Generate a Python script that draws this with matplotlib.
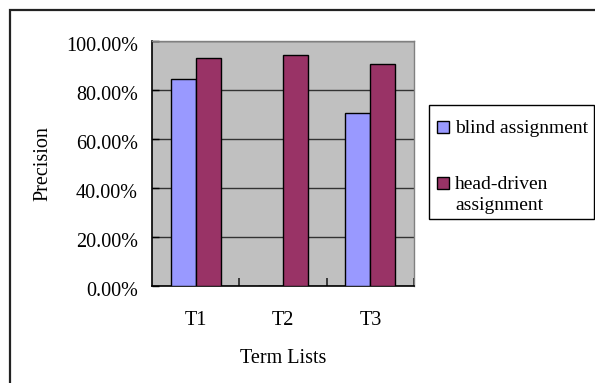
import numpy as np
import matplotlib
matplotlib.use("Agg")
import matplotlib.pyplot as plt
import matplotlib.patches as mpatches
import matplotlib.transforms as mtransforms
from matplotlib.ticker import FuncFormatter, FixedLocator

plt.rcParams['font.family'] = ['Liberation Serif', 'DejaVu Serif']

# Precision per term list
term_lists = ['T1', 'T2', 'T3']
blind = [0.846, 0.0, 0.706]
head_driven = [0.930, 0.942, 0.906]
series_names = ['blind assignment', 'head-driven\nassignment']
series_colors = ['#9999FF', '#993366']

W, H = 595, 383
FS = 14.5
fig = plt.figure(figsize=(W / 100, H / 100), dpi=100)


def fx(px):
    return px / W


def fy(py):
    return 1 - py / H


# outer chart frame (runs off the right and bottom edges)
frame = mpatches.Rectangle((fx(9.5), -0.05), 1.1, fy(10.5) + 0.05,
                           transform=fig.transFigure, fill=False,
                           edgecolor='#222222', linewidth=1.6, clip_on=False)
fig.patches.append(frame)

ax = fig.add_axes([fx(152), fy(286), (414 - 152) / W, (286 - 41) / H])
ax.set_facecolor('#C0C0C0')

x = np.arange(len(term_lists))
bw = 0.286
ax.bar(x - bw / 2, blind, bw, color=series_colors[0], edgecolor='black',
       linewidth=1.0, zorder=3)
ax.bar(x + bw / 2, head_driven, bw, color=series_colors[1], edgecolor='black',
       linewidth=1.0, zorder=3)

ax.set_xlim(-0.5, len(term_lists) - 0.5)
ax.set_ylim(0, 1.0)
ax.set_yticks(np.arange(0, 1.01, 0.2))
ax.yaxis.set_major_formatter(FuncFormatter(lambda v, p: f'{v * 100:.2f}%'))
ax.yaxis.grid(True, color='#333333', linewidth=1.0, zorder=1)

# category labels centred, tick marks between categories
ax.set_xticks(x)
ax.set_xticklabels(term_lists)
ax.xaxis.set_minor_locator(FixedLocator([0.5, 1.5, 2.5]))
ax.tick_params(axis='x', which='major', length=0, pad=18, labelsize=FS)
ax.tick_params(axis='x', which='minor', direction='in', length=6, width=1.2, color='#222222')
ax.tick_params(axis='y', direction='in', length=5, width=1, pad=10, labelsize=FS)

# percent labels sit a little below their gridlines
shift = mtransforms.ScaledTranslation(0, -3 / 100, fig.dpi_scale_trans)
for lbl in ax.get_yticklabels():
    lbl.set_transform(lbl.get_transform() + shift)

for s in ['top', 'right']:
    ax.spines[s].set_color('#808080')
    ax.spines[s].set_linewidth(1.0)
for s in ['left', 'bottom']:
    ax.spines[s].set_color('black')
    ax.spines[s].set_linewidth(1.2)

ax.set_ylabel('Precision', fontsize=FS, labelpad=10)
ax.set_xlabel('Term Lists', fontsize=FS, labelpad=14)

# legend box drawn by hand so the second swatch lines up with the first text line
box = mpatches.Rectangle((fx(429), fy(219)), (594 - 429) / W, (219 - 105) / H,
                         transform=fig.transFigure, facecolor='white',
                         edgecolor='black', linewidth=1.0)
fig.patches.append(box)
entry_tops = [121, 177]
for name, color, top in zip(series_names, series_colors, entry_tops):
    sw = mpatches.Rectangle((fx(437), fy(top + 12)), 12 / W, 12 / H,
                            transform=fig.transFigure, facecolor=color,
                            edgecolor='black', linewidth=1.0)
    fig.patches.append(sw)
    for k, line in enumerate(name.split('\n')):
        fig.text(fx(455), fy(top + 12 + k * 21.5), line, fontsize=14,
                 ha='left', va='baseline')

fig.savefig('out.png', dpi=100, facecolor='white')
